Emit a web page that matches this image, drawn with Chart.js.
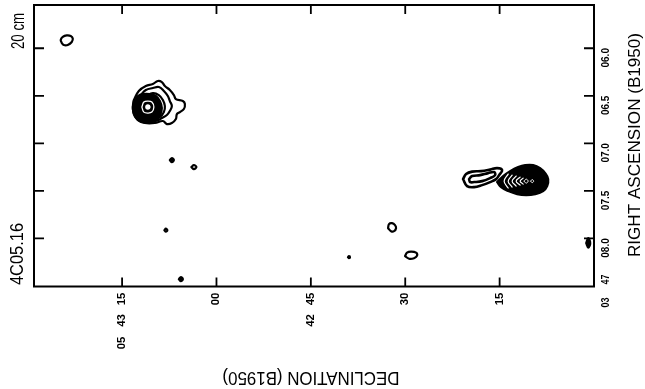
<!DOCTYPE html>
<html>
<head>
<meta charset="utf-8">
<script src="https://cdn.jsdelivr.net/npm/chart.js@4/dist/chart.umd.min.js"></script>
<style>
  html, body { margin: 0; padding: 0; background: #fff; }
  canvas { display: block; }
</style>
</head>
<body>
<canvas id="map" width="645" height="389"></canvas>
<script>
// Axes: x = declination, arcsec above +05 42 00 ; y = right ascension, seconds after 03 47
const decTicks = [75, 60, 45, 30, 15];
const decTickLabels = ['05 43 15', '00', '42 45', '30', '15'];
const raTicks = [8.0, 7.5, 7.0, 6.5, 6.0];
const raTickLabels = ['03 47 08.0', '07.5', '07.0', '06.5', '06.0'];

// Contours, [dec, ra] pairs
// small source top left
const srcA = [[84.59,5.944],[84.75,5.913],[84.43,5.881],[83.80,5.865],[83.16,5.871],[82.84,5.897],[83.00,5.934],[83.64,5.965],[84.27,5.965]];

// bright source upper left
const srcB1 = [[73.13,6.544],[72.34,6.449],[71.22,6.397],[70.11,6.376],[69.32,6.344],[68.68,6.355],[68.20,6.397],[67.41,6.439],[66.77,6.492],[66.45,6.534],[65.34,6.555],[65.02,6.586],[65.18,6.639],[65.81,6.671],[66.29,6.692],[66.45,6.744],[67.09,6.786],[67.88,6.797],[68.52,6.765],[69.79,6.786],[71.38,6.786],[72.49,6.755],[73.13,6.692],[73.29,6.618]];
const srcB2 = [[72.18,6.502],[71.22,6.439],[70.11,6.418],[69.16,6.407],[68.36,6.449],[67.73,6.502],[67.41,6.555],[67.09,6.607],[67.41,6.660],[67.88,6.702],[68.68,6.734],[69.64,6.765],[71.38,6.765],[72.65,6.692],[72.65,6.586]];
const srcB3 = [[71.22,6.502],[70.11,6.471],[69.16,6.492],[68.52,6.544],[68.20,6.607],[68.36,6.671],[69.00,6.723],[70.27,6.744],[71.38,6.723],[72.02,6.660],[72.02,6.565]];
const srcBCore = [[73.13,6.555],[72.49,6.502],[71.70,6.481],[70.59,6.481],[69.64,6.502],[69.00,6.555],[68.68,6.628],[69.00,6.713],[69.79,6.765],[70.91,6.786],[72.18,6.765],[72.97,6.713],[73.29,6.639]];
const srcBGap = [[71.86,6.618],[71.54,6.565],[70.91,6.555],[70.27,6.565],[69.95,6.618],[70.27,6.671],[70.91,6.681],[71.54,6.671]];
const srcBPeak = [[71.47,6.618],[71.31,6.592],[70.91,6.581],[70.51,6.592],[70.35,6.618],[70.51,6.644],[70.91,6.655],[71.31,6.644]];

// source on the right with its tail
const srcCCore = [[15.40,7.407],[14.44,7.344],[13.33,7.292],[12.06,7.249],[10.94,7.228],[9.67,7.228],[8.56,7.260],[7.76,7.313],[7.28,7.376],[7.44,7.449],[8.08,7.502],[9.35,7.534],[10.78,7.544],[12.22,7.534],[13.64,7.502],[14.76,7.460]];
const srcCArcs = [
  [[13.64,7.323],[14.28,7.397],[13.64,7.470]],
  [[13.01,7.334],[13.64,7.397],[13.01,7.460]],
  [[12.37,7.344],[13.01,7.397],[12.37,7.449]],
  [[11.74,7.355],[12.37,7.397],[11.74,7.439]],
  [[11.26,7.365],[11.74,7.397],[11.26,7.428]]
];
const srcCPeak1 = [[11.10,7.397],[10.78,7.376],[10.47,7.397],[10.78,7.418]];
const srcCPeak2 = [[10.07,7.397],[9.83,7.381],[9.59,7.397],[9.83,7.413]];
const srcCTail1 = [[20.81,7.376],[20.33,7.323],[19.37,7.297],[17.94,7.292],[16.51,7.276],[15.40,7.260],[14.60,7.281],[15.08,7.334],[15.56,7.376],[16.51,7.407],[17.78,7.439],[19.05,7.460],[20.17,7.449]];
const srcCTail2 = [[19.85,7.376],[19.37,7.344],[18.10,7.334],[16.83,7.313],[15.87,7.302],[15.72,7.334],[16.51,7.365],[17.78,7.397],[19.05,7.407],[19.69,7.407]];

// weak spots
const spotRings = [
  [[63.99,7.249],[63.59,7.228],[63.19,7.249],[63.59,7.271]],
  [[68.28,7.913],[68.05,7.897],[67.81,7.913],[68.05,7.928]],
  [[32.73,7.892],[32.58,7.849],[32.10,7.839],[31.62,7.860],[31.46,7.892],[31.78,7.923],[32.26,7.923]],
  [[30.03,8.186],[29.71,8.149],[29.08,8.139],[28.28,8.149],[28.12,8.181],[28.60,8.207],[29.39,8.213]]
];
const spotDots = [
  [[67.41,7.176],[67.09,7.155],[66.77,7.176],[67.09,7.197]],
  [[65.98,8.428],[65.66,8.407],[65.34,8.428],[65.66,8.449]],
  [[39.10,8.197],[38.94,8.186],[38.78,8.197],[38.94,8.207]],
  [[1.24,8.049],[0.92,7.997],[0.60,8.049],[0.92,8.097]]
];

function toPoints(arr, closed) {
  const pts = arr.map(p => ({ x: p[0], y: p[1] }));
  if (closed) pts.push({ ...pts[0] });
  return pts;
}

function contour(arr, opts) {
  return Object.assign({
    data: toPoints(arr, true),
    showLine: true,
    borderColor: '#000',
    backgroundColor: '#000',
    borderWidth: 2.2,
    pointRadius: 0,
    tension: 0.4,
    fill: false,
    order: 2
  }, opts);
}

const datasets = [];
[srcA, srcB1, srcB2, srcB3].concat(spotRings).forEach(c => datasets.push(contour(c)));
[srcCTail1, srcCTail2].forEach(c => datasets.push(contour(c, { borderWidth: 2.6 })));
[srcBCore, srcCCore].concat(spotDots).forEach(c => datasets.push(contour(c, { fill: 'shape', order: 3 })));
datasets.push(contour(srcBGap, { borderColor: '#fff', borderWidth: 1.3, order: 1 }));
datasets.push(contour(srcBPeak, { backgroundColor: '#fff', fill: 'shape', borderWidth: 1.5, order: 0 }));
srcCArcs.forEach(a => datasets.push({
  data: toPoints(a, false), showLine: true, borderColor: '#fff', borderWidth: 1.2,
  pointRadius: 0, tension: 0.4, fill: false, order: 1
}));
[srcCPeak1, srcCPeak2].forEach(c => datasets.push(contour(c, { borderColor: '#fff', borderWidth: 1, order: 1 })));

function drawText(ctx, text, cx, cy, angle, font, len) {
  ctx.save();
  ctx.font = font;
  ctx.translate(cx, cy);
  ctx.rotate(angle);
  if (len) {
    const w = ctx.measureText(text).width;
    ctx.scale(len / w, 1);
  }
  ctx.textAlign = 'center';
  ctx.textBaseline = 'middle';
  ctx.fillText(text, 0, 0);
  ctx.restore();
}

const framePlugin = {
  id: 'frame',
  beforeDraw(chart) {
    const ctx = chart.ctx;
    ctx.save();
    ctx.fillStyle = '#fff';
    ctx.fillRect(0, 0, chart.width, chart.height);
    ctx.restore();
  },
  afterDraw(chart) {
    const { ctx, chartArea: a } = chart;
    const xs = chart.scales.x, ys = chart.scales.y;
    ctx.save();
    ctx.strokeStyle = '#000';
    ctx.fillStyle = '#000';
    ctx.lineWidth = 2;
    ctx.strokeRect(a.left, a.top, a.right - a.left, a.bottom - a.top);

    ctx.lineWidth = 1.8;
    ctx.beginPath();
    decTicks.forEach(v => {
      const px = xs.getPixelForValue(v);
      ctx.moveTo(px, a.top); ctx.lineTo(px, a.top + 9);
      ctx.moveTo(px, a.bottom); ctx.lineTo(px, a.bottom - 9);
    });
    raTicks.forEach(v => {
      const py = ys.getPixelForValue(v);
      ctx.moveTo(a.left, py); ctx.lineTo(a.left + 10, py);
      ctx.moveTo(a.right, py); ctx.lineTo(a.right - 10, py);
    });
    ctx.stroke();

    const tickFont = 'bold 10.5px "Liberation Sans", Arial, sans-serif';
    const up = -Math.PI / 2;
    // declination labels, read upward, nearest group at the frame
    const decOffsets = [12.5, 34, 56.5];
    decTickLabels.forEach((lab, i) => {
      const px = xs.getPixelForValue(decTicks[i]);
      lab.split(' ').reverse().forEach((g, j) => {
        drawText(ctx, g, px, a.bottom + decOffsets[j], up, tickFont, g.length * 6.3);
      });
    });
    // right ascension labels on the right side
    const raOffsets = [9.5, 41, 64];
    raTickLabels.forEach((lab, i) => {
      const py = ys.getPixelForValue(raTicks[i]);
      lab.split(' ').reverse().forEach((g, j) => {
        const len = g.length > 2 ? 19.5 : 10;
        drawText(ctx, g, a.right + 12, py + raOffsets[j], up, tickFont, len);
      });
    });

    const bigFont = '17.5px "Liberation Sans", Arial, sans-serif';
    drawText(ctx, '20 cm', 18.8, 31, up, bigFont, 36);
    drawText(ctx, '4C05.16', 18.5, 254, up, bigFont, 62);
    drawText(ctx, 'RIGHT ASCENSION (B1950)', 635.5, 145, up, '17px "Liberation Sans", Arial, sans-serif', 224);
    drawText(ctx, 'DECLINATION (B1950)', 311, 376.5, Math.PI, bigFont, 177);
    ctx.restore();
  }
};

new Chart(document.getElementById('map'), {
  type: 'scatter',
  data: { datasets: datasets },
  options: {
    responsive: false,
    animation: false,
    layout: { padding: { left: 34, right: 51, top: 5, bottom: 102.5 } },
    plugins: { legend: { display: false }, tooltip: { enabled: false } },
    elements: { line: { borderJoinStyle: 'round', borderCapStyle: 'round' } },
    scales: {
      x: { type: 'linear', min: 0, max: 89, reverse: true, display: false },
      y: { type: 'linear', min: 5.545, max: 8.505, reverse: true, display: false }
    }
  },
  plugins: [framePlugin]
});
</script>
</body>
</html>
